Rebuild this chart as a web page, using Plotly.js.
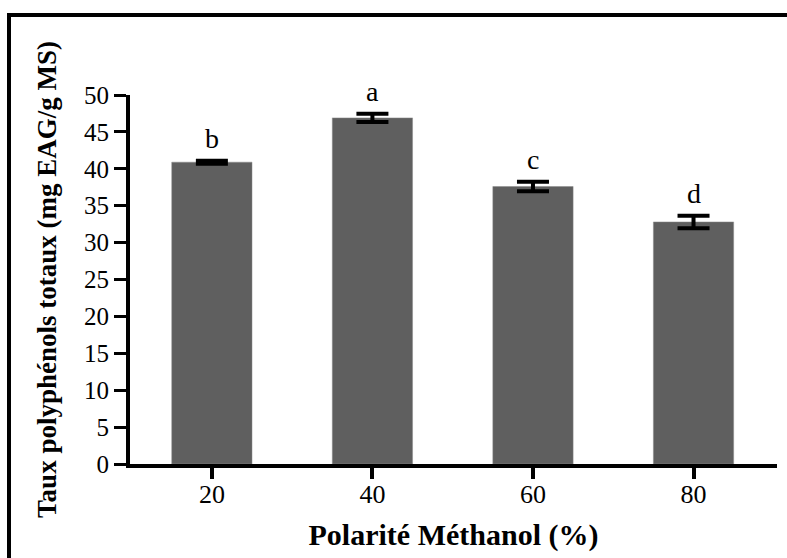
<!DOCTYPE html>
<html>
<head>
<meta charset="utf-8">
<script src="https://cdn.plot.ly/plotly-3.0.1.min.js"></script>
<style>
  html, body { margin: 0; padding: 0; background: #fff; }
  #chart { width: 787px; height: 558px; }
</style>
</head>
<body>
<div id="chart"></div>
<script>
// Methanol concentration (%) of the extraction solvent
const polarity = ['20', '40', '60', '80'];
// Total polyphenol content (mg GAE / g DM), mean and standard deviation
const meanTPC = [40.9, 46.9, 37.6, 32.8];
const sdTPC = [0.2, 0.55, 0.65, 0.85];
// Statistical grouping letters
const groups = ['b', 'a', 'c', 'd'];

const serif = 'Liberation Serif';

const margin = { l: 130, r: 10, t: 95, b: 94 };
const W = 787, H = 558;
const pw = W - margin.l - margin.r;
const ph = H - margin.t - margin.b;
const px2paperX = x => (x - margin.l) / pw;
const px2paperY = y => 1 - (y - margin.t) / ph;

const trace = {
  type: 'bar',
  x: polarity,
  y: meanTPC,
  width: 0.5,
  marker: { color: '#5f5f5f', line: { color: '#8a8a8a', width: 0.5 } },
  error_y: {
    type: 'data',
    array: sdTPC,
    visible: true,
    color: '#000',
    thickness: 4,
    width: 16
  },
  hoverinfo: 'skip'
};

// Group letters placed just above each error bar
const annotations = groups.map((g, i) => ({
  x: i,
  y: meanTPC[i] + sdTPC[i],
  xref: 'x',
  yref: 'y',
  text: g,
  showarrow: false,
  yanchor: 'bottom',
  yshift: 5,
  font: { family: serif, size: 28, color: '#000000' }
}));

// Outer frame around the figure (open on the right and bottom edges)
const frame = {
  type: 'path',
  xref: 'paper',
  yref: 'paper',
  path: 'M ' + px2paperX(W + 10) + ' ' + px2paperY(15) +
        ' L ' + px2paperX(9) + ' ' + px2paperY(15) +
        ' L ' + px2paperX(9) + ' ' + px2paperY(H + 10),
  line: { color: '#000', width: 4 }
};

const layout = {
  width: W,
  height: H,
  margin: margin,
  paper_bgcolor: '#fff',
  plot_bgcolor: '#fff',
  showlegend: false,
  font: { family: serif, color: '#000' },
  xaxis: {
    type: 'category',
    range: [-0.51, 3.52],
    showgrid: false,
    zeroline: false,
    showline: true,
    linecolor: '#000',
    linewidth: 4,
    ticks: 'outside',
    ticklen: 11,
    tickwidth: 4,
    tickcolor: '#000',
    ticklabelstandoff: -7,
    tickfont: { family: serif, size: 26, color: '#000' },
    title: {
      text: '<b>Polarité Méthanol (%)</b>',
      font: { family: serif, size: 30, color: '#000' },
      standoff: 17
    }
  },
  yaxis: {
    range: [0, 50],
    tickvals: [0, 5, 10, 15, 20, 25, 30, 35, 40, 45, 50],
    showgrid: false,
    zeroline: false,
    showline: true,
    linecolor: '#000',
    linewidth: 4,
    ticks: 'outside',
    ticklen: 12,
    tickwidth: 3,
    tickcolor: '#000',
    tickfont: { family: serif, size: 25, color: '#000' },
    title: {
      text: '<b>Taux polyphénols totaux (mg EAG/g MS)</b>',
      font: { family: serif, size: 27, color: '#000' },
      standoff: 21
    }
  },
  annotations: annotations,
  shapes: [frame]
};

Plotly.newPlot('chart', [trace], layout, { staticPlot: true, displayModeBar: false });
</script>
</body>
</html>
